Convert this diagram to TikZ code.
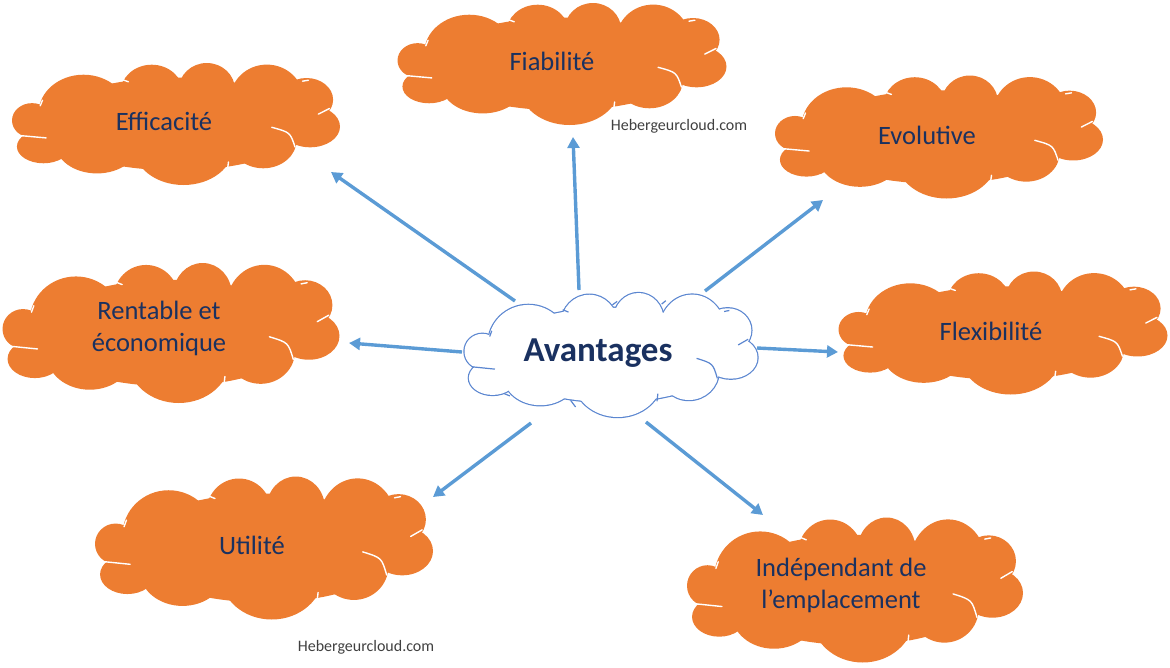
\documentclass[tikz,border=0pt]{standalone}
\usepackage{fontspec}
\setmainfont{Carlito}
\usetikzlibrary{arrows.meta,calc}
\definecolor{orangeppt}{HTML}{ED7D31}
\definecolor{textebleu}{HTML}{1A3160}
\definecolor{flechebleu}{HTML}{5B9BD5}
\definecolor{bordbleu}{HTML}{5B86D0}
\newcommand\bulles{-0.439/-0.029/0.061/0.142, -0.282/-0.089/0.137/0.315,
  -0.074/-0.253/0.096/0.233, 0.094/-0.281/0.086/0.219, 0.277/-0.199/0.112/0.288,
  0.398/-0.199/0.081/0.178, 0.409/0.021/0.091/0.170, 0.266/0.130/0.102/0.233,
  0.023/0.185/0.152/0.315, -0.241/0.158/0.127/0.247, -0.404/0.185/0.081/0.137,
  0/0/0.4/0.38}
% #1 centre, #2 largeur, #3 hauteur, #4 contour, #5 fond, #6 arcs
\newcommand\nuage[6]{%
  \begin{scope}[shift={#1}, xscale=#2, yscale=#3]
    \foreach \cx/\cy/\rx/\ry in \bulles
      \path[#4] (\cx,\cy) ellipse [x radius=\rx, y radius=\ry];
    \foreach \cx/\cy/\rx/\ry in \bulles
      \fill[#5] (\cx,\cy) ellipse [x radius=\rx, y radius=\ry];
    \draw[#6] (-0.475,0.095) -- (-0.396,0.114) (-0.365,0.311) -- (-0.345,0.330)
      (-0.138,0.365) -- (-0.121,0.419) (0.160,0.311) -- (0.157,0.373)
      (0.292,0.027) .. controls (0.348,0.068) .. (0.363,0.189)
      (0.434,-0.081) -- (0.468,-0.127) (0.386,-0.351) -- (0.404,-0.359)
      (0.173,-0.411) -- (0.187,-0.438) (0.005,-0.405) -- (0.021,-0.432)
      (-0.165,-0.365) -- (-0.145,-0.346) (-0.414,-0.149) -- (-0.407,-0.195);
  \end{scope}}
\tikzset{
  arcblanc/.style={white, line width=1.4pt, line cap=round},
  idee/.style={text=textebleu, align=center, inner sep=0pt,
    font=\fontsize{26.5}{32}\selectfont},
  titre/.style={text=textebleu, inner sep=0pt, font=\bfseries\fontsize{35}{38}\selectfont},
  fleche/.style={draw=flechebleu, line width=3.4pt,
    -{Triangle[length=11pt,width=12pt]}},
  filigrane/.style={text=black!75, font=\fontsize{16}{18}\selectfont}
}
\begin{document}
\begin{tikzpicture}[x=1pt,y=-1pt]
  \useasboundingbox (0,0) rectangle (1170,667);
  \nuage{(611,355)}{293}{124}{draw=bordbleu, line width=2.4pt}{white}{bordbleu, line width=1.2pt}
  \nuage{(176,124)}{328}{122}{}{orangeppt}{arcblanc}
  \nuage{(562,64)}{329}{122}{}{orangeppt}{arcblanc}
  \nuage{(939,137)}{328}{123}{}{orangeppt}{arcblanc}
  \nuage{(171,333)}{337}{140}{}{orangeppt}{arcblanc}
  \nuage{(1003,333)}{329}{123}{}{orangeppt}{arcblanc}
  \nuage{(264,548)}{338}{143}{}{orangeppt}{arcblanc}
  \nuage{(855,590)}{336}{145}{}{orangeppt}{arcblanc}
  \draw
    (598,353) node[titre] (av){Avantages}
    (164,121) node[idee] (eff){Efficacit\'e}
    (552,61) node[idee] (fia){Fiabilit\'e}
    (927,135) node[idee] (evo){Evolutive}
    (159,328) node[idee] (ren){Rentable et\\\'economique}
    (991,331) node[idee] (fle){Flexibilit\'e}
    (252,545) node[idee] (uti){Utilit\'e}
    (841,585) node[idee] (ind){Ind\'ependant de\\l’emplacement};
  \node[filigrane] (wm1) at (679,126) {Hebergeurcloud.com};
  \node[filigrane] (wm2) at (366,647) {Hebergeurcloud.com};
  \begin{scope}[fleche]
    \draw ($(av)+(-83,-52)$) to ($(eff)+(167,51)$);
    \draw ($(av)+(-19,-63)$) to ($(fia)+(21,76)$);
    \draw ($(av)+(107,-62)$) to ($(evo)+(-104,65)$);
    \draw ($(av)+(-136,-1)$) to ($(ren)+(190,15)$);
    \draw ($(av)+(159,-5)$) to ($(fle)+(-153,21)$);
    \draw ($(av)+(-67,70)$) to ($(uti)+(181,-48)$);
    \draw ($(av)+(48,69)$) to ($(ind)+(-78,-70)$);
  \end{scope}
\end{tikzpicture}
\end{document}
